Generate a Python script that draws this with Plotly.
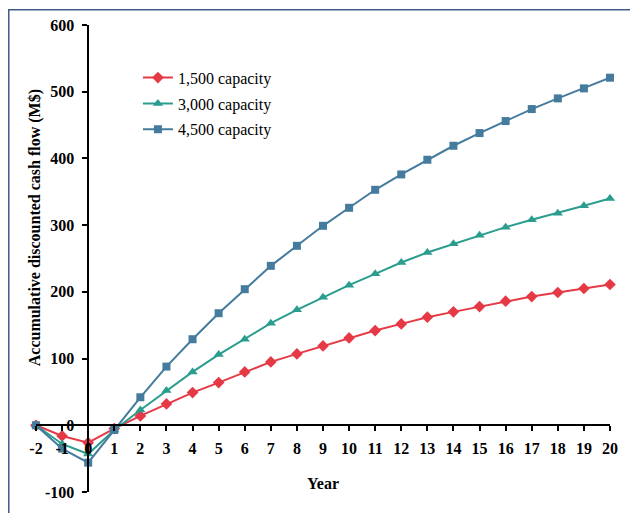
import plotly.graph_objects as go

years = list(range(-2, 21))
cap_1500 = [0, -16, -26, -5, 14, 32, 49, 64, 80, 95, 107, 119, 131, 142, 152, 162, 170, 178, 186, 193, 199, 205, 211]
cap_3000 = [0, -28, -43, -7, 23, 52, 80, 106, 129, 153, 173, 192, 210, 227, 244, 259, 272, 285, 297, 308, 318, 329, 340]
cap_4500 = [0, -35, -56, -7, 42, 88, 129, 168, 204, 239, 269, 299, 326, 353, 376, 398, 419, 438, 456, 474, 490, 505, 521]
series_names = ["1,500 capacity", "3,000 capacity", "4,500 capacity"]
series_colors = ["#E63946", "#2A9D8F", "#457B9D"]
series_symbols = ["diamond", "triangle-up", "square"]
x_range = [-2, 20]
y_range = [-100, 600]
x_ticks = list(range(-2, 21))
x_ticklabels = [str(v) for v in x_ticks]
y_ticks = [-100, 0, 100, 200, 300, 400, 500, 600]
y_ticklabels = [str(v) for v in y_ticks]

FONT = "Liberation Serif, Times New Roman, serif"

fig = go.Figure()
for name, vals, col, sym in zip(series_names, [cap_1500, cap_3000, cap_4500], series_colors, series_symbols):
    fig.add_trace(go.Scatter(
        x=years, y=vals, name=name, mode="lines+markers", legendgroup=name,
        line=dict(color=col, width=2),
        marker=dict(symbol=sym, size=9 if sym != "square" else 8, color=col),
        cliponaxis=False,
    ))

x_frac = (0 - x_range[0]) / (x_range[1] - x_range[0])
y_frac = (0 - y_range[0]) / (y_range[1] - y_range[0])

fig.update_layout(
    width=630, height=513,
    margin=dict(l=36, r=14, t=25, b=17),
    paper_bgcolor="white", plot_bgcolor="white",
    font=dict(family=FONT, color="black"),
    showlegend=True,
    legend=dict(x=(139 - 36) / 580, y=(496 - 61) / 471, xanchor="left", yanchor="top",
                font=dict(size=16, family=FONT, color="black"),
                bgcolor="rgba(0,0,0,0)", tracegroupgap=2, itemwidth=30),
    xaxis=dict(range=x_range, tickvals=x_ticks, ticktext=x_ticklabels, anchor="free", position=y_frac,
               showgrid=False, zeroline=False, showline=True, linecolor="black", linewidth=1.5,
               ticks="outside", ticklen=5, tickwidth=1.5, tickcolor="black", ticklabelstandoff=4,
               tickfont=dict(size=16, family=FONT, color="black", weight="bold")),
    yaxis=dict(range=y_range, tickvals=y_ticks, ticktext=y_ticklabels, anchor="free", position=x_frac,
               showgrid=False, zeroline=False, showline=True, linecolor="black", linewidth=1.5,
               ticks="outside", ticklen=5, tickwidth=1.5, tickcolor="black", ticklabelstandoff=5,
               tickfont=dict(size=16, family=FONT, color="black", weight="bold")),
    annotations=[
        dict(text="<b>Year</b>", x=0.5, y=(496 - 487) / 471, xref="paper", yref="paper",
             xanchor="center", yanchor="middle", showarrow=False,
             font=dict(size=16, family=FONT, color="black")),
        dict(text="<b>Accumulative discounted cash flow (M$)</b>", x=(35 - 36) / 580, y=(496 - 230) / 471,
             xref="paper", yref="paper", xanchor="center", yanchor="middle", textangle=-90, showarrow=False,
             font=dict(size=16, family=FONT, color="black")),
    ],
    shapes=[dict(type="rect", xref="paper", yref="paper",
                 x0=(8.5 - 36) / 580, x1=1.2, y0=-0.2, y1=(496 - 9.5) / 471,
                 line=dict(color="#3E5C8A", width=1.5), fillcolor="rgba(0,0,0,0)", layer="below")],
)

fig.write_html("out.html")
